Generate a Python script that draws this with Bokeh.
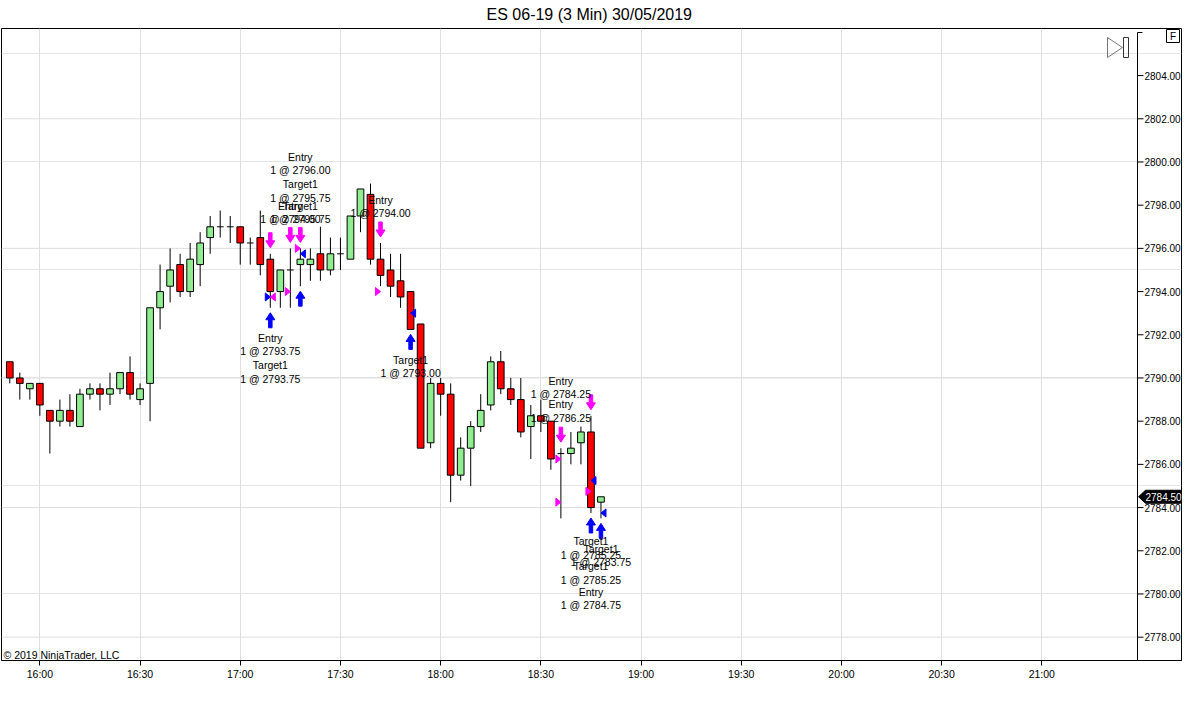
import pandas as pd
from bokeh.plotting import figure
from bokeh.models import Range1d, FixedTicker, DatetimeTickFormatter, Label
from bokeh.embed import file_html
from bokeh.resources import INLINE
from bokeh.core.properties import value

# ---------------- data ----------------
TITLE = "ES 06-19 (3 Min)  30/05/2019"
SESSION_DATE = "2019-05-30"

bar_times = ["15:51", "15:54", "15:57", "16:00", "16:03", "16:06", "16:09", "16:12", "16:15", "16:18",
             "16:21", "16:24", "16:27", "16:30", "16:33", "16:36", "16:39", "16:42", "16:45", "16:48",
             "16:51", "16:54", "16:57", "17:00", "17:03", "17:06", "17:09", "17:12", "17:15", "17:18",
             "17:21", "17:24", "17:27", "17:30", "17:33", "17:36", "17:39", "17:42", "17:45", "17:48",
             "17:51", "17:54", "17:57", "18:00", "18:03", "18:06", "18:09", "18:12", "18:15", "18:18",
             "18:21", "18:24", "18:27", "18:30", "18:33", "18:36", "18:39", "18:42", "18:45", "18:48"]
opens = [2790.75, 2790.00, 2789.50, 2789.75, 2788.50, 2788.00, 2788.50, 2787.75, 2789.25, 2789.50,
         2789.25, 2789.50, 2790.25, 2789.00, 2789.75, 2793.25, 2794.25, 2795.25, 2794.00, 2795.25,
         2796.50, 2797.00, 2797.00, 2797.00, 2796.25, 2796.50, 2795.50, 2794.00, 2795.00, 2795.25,
         2795.25, 2795.75, 2795.00, 2795.75, 2795.50, 2797.50, 2798.50, 2795.50, 2795.00, 2794.50,
         2794.00, 2792.50, 2787.00, 2789.75, 2789.25, 2785.50, 2786.75, 2787.75, 2788.75, 2790.75,
         2789.50, 2789.00, 2787.75, 2788.25, 2788.00, 2786.50, 2786.50, 2787.00, 2787.50, 2784.25]
highs = [2790.75, 2790.25, 2789.75, 2789.75, 2788.50, 2789.00, 2789.25, 2789.50, 2789.75, 2789.75,
         2790.25, 2790.25, 2791.00, 2789.75, 2793.25, 2795.25, 2796.00, 2795.75, 2796.25, 2796.75,
         2797.50, 2797.75, 2797.50, 2797.00, 2796.50, 2797.75, 2795.75, 2795.00, 2796.00, 2796.00,
         2796.00, 2797.00, 2796.50, 2796.50, 2797.50, 2798.75, 2799.00, 2796.25, 2795.75, 2795.75,
         2794.00, 2792.50, 2790.00, 2790.00, 2789.75, 2787.25, 2788.00, 2789.25, 2791.00, 2791.25,
         2790.00, 2790.00, 2788.75, 2789.00, 2788.00, 2786.75, 2787.50, 2787.75, 2788.25, 2784.50]
lows = [2789.75, 2789.00, 2789.00, 2788.25, 2786.50, 2787.75, 2787.75, 2787.75, 2789.00, 2788.50,
        2788.75, 2789.25, 2789.00, 2788.75, 2788.00, 2792.25, 2793.50, 2793.75, 2793.75, 2794.25,
        2795.75, 2796.50, 2796.25, 2795.25, 2795.25, 2794.75, 2793.25, 2793.25, 2793.25, 2794.25,
        2794.50, 2794.50, 2794.75, 2795.00, 2795.50, 2796.75, 2795.25, 2794.25, 2793.75, 2793.25,
        2792.25, 2786.75, 2786.75, 2788.25, 2784.25, 2785.25, 2785.00, 2787.50, 2788.50, 2789.25,
        2788.75, 2787.25, 2786.25, 2787.50, 2785.75, 2783.50, 2786.00, 2786.00, 2783.75, 2783.50]
closes = [2790.00, 2789.75, 2789.75, 2788.75, 2788.00, 2788.50, 2788.00, 2789.25, 2789.50, 2789.25,
          2789.50, 2790.25, 2789.25, 2789.50, 2793.25, 2794.00, 2795.00, 2794.00, 2795.50, 2796.25,
          2797.00, 2797.00, 2797.00, 2796.25, 2796.25, 2795.25, 2794.00, 2795.00, 2795.00, 2795.50,
          2795.50, 2795.00, 2795.75, 2795.75, 2797.50, 2798.75, 2795.50, 2794.75, 2794.25, 2793.75,
          2792.25, 2786.75, 2789.75, 2789.25, 2785.50, 2786.75, 2787.75, 2788.50, 2790.75, 2789.50,
          2789.00, 2787.50, 2788.25, 2788.00, 2786.25, 2786.50, 2786.75, 2787.50, 2784.00, 2784.50]

sell_arrow_times = ["17:09", "17:15", "17:18", "17:42", "18:36", "18:45"]
buy_arrow_times = ["17:09", "17:18", "17:51", "18:45", "18:48"]

exec_times = ["17:09", "17:09", "17:15", "17:18", "17:18", "17:42", "17:51",
              "18:36", "18:36", "18:45", "18:45", "18:48"]
exec_prices = [2793.75, 2793.75, 2794.00, 2796.00, 2795.75, 2794.00, 2793.00,
               2786.25, 2784.25, 2784.75, 2785.25, 2783.75]
exec_sides = ["buy", "sell", "sell", "sell", "buy", "sell", "buy",
              "sell", "sell", "sell", "buy", "buy"]
exec_marks = ["left", "right", "left", "left", "right", "left", "right",
              "left", "left", "left", "right", "right"]

label_times = ["17:09", "17:18", "17:15", "17:18", "17:42", "17:51",
               "18:36", "18:36", "18:45", "18:48", "18:45", "18:45"]
label_prices = [2792.15, 2800.53, 2798.26, 2798.26, 2798.54, 2791.13,
                2790.16, 2789.05, 2782.71, 2782.38, 2781.55, 2780.39]
label_texts = ["Entry\n1 @ 2793.75\nTarget1\n1 @ 2793.75",
               "Entry\n1 @ 2796.00\nTarget1\n1 @ 2795.75",
               "Entry\n1 @ 2794.00",
               "Target1\n1 @ 2795.75",
               "Entry\n1 @ 2794.00",
               "Target1\n1 @ 2793.00",
               "Entry\n1 @ 2784.25",
               "Entry\n1 @ 2786.25",
               "Target1\n1 @ 2785.25",
               "Target1\n1 @ 2783.75",
               "Target1\n1 @ 2785.25",
               "Entry\n1 @ 2784.75"]

price_ticks = [2778, 2780, 2782, 2784, 2786, 2788, 2790, 2792, 2794, 2796, 2798, 2800, 2802, 2804]
grid_prices = [2778, 2784, 2790, 2796, 2802]
time_ticks = ["16:00", "16:30", "17:00", "17:30", "18:00", "18:30", "19:00",
              "19:30", "20:00", "20:30", "21:00"]
last_price = 2784.50
copyright_text = "\u00a9 2019 NinjaTrader, LLC"

# ---------------- layout / style ----------------
FIG_W, FIG_H = 1182, 690
B_L, B_R, B_T, B_B = 1, 1, 28, 30
FRAME_W = FIG_W - B_L - B_R
FRAME_H = FIG_H - B_T - B_B
AXIS_PX = 1136          # price-axis line, pixels from the frame's left edge
X_START = "15:48:31"
X_END = "21:41:49"
Y_START, Y_END = 2776.92, 2806.18
FONT = "Liberation Sans"
UP_COLOR = "#90ee90"
DOWN_COLOR = "#ff0000"
BUY_COLOR = "#0000ff"
SELL_COLOR = "#ff00ff"
GRID_COLOR = "#dedede"
TEXT_SIZE = "10.5px"


def ms(t):
    return pd.Timestamp(SESSION_DATE + " " + t).value / 1e6


x0, x1 = ms(X_START), ms(X_END)
MS_PX = (x1 - x0) / FRAME_W
PT_PX = (Y_END - Y_START) / FRAME_H


def px_x(px):
    return x0 + px * MS_PX


def px_y(py):
    return Y_END - py * PT_PX


p = figure(width=FIG_W, height=FIG_H, x_axis_type="datetime", y_axis_location=None,
           x_range=Range1d(x0, x1), y_range=Range1d(Y_START, Y_END),
           output_backend="svg", toolbar_location=None,
           min_border_left=B_L, min_border_right=B_R, min_border_top=B_T, min_border_bottom=B_B)
p.background_fill_color = "white"
p.border_fill_color = "white"
p.outline_line_color = "black"
p.outline_line_width = 1

p.title.text = TITLE
p.title.align = "center"
p.title.vertical_align = "top"
p.title.text_font = FONT
p.title.text_font_size = "16px"
p.title.text_font_style = "normal"
p.title.text_color = "black"
p.title.standoff = 8

# time axis
tt = [ms(t) for t in time_ticks]
p.xaxis.ticker = FixedTicker(ticks=tt)
p.xaxis.formatter = DatetimeTickFormatter(minutes="%H:%M", hours="%H:%M", hourmin="%H:%M",
                                          minsec="%H:%M", days="%H:%M")
p.xaxis.axis_line_color = "black"
p.xaxis.major_tick_line_color = "black"
p.xaxis.major_tick_out = 5
p.xaxis.major_tick_in = 0
p.xaxis.minor_tick_line_color = None
p.xaxis.major_label_text_font = FONT
p.xaxis.major_label_text_font_size = TEXT_SIZE
p.xaxis.major_label_text_color = "black"
p.xaxis.major_label_standoff = 2
p.xgrid.ticker = FixedTicker(ticks=tt)
p.xgrid.grid_line_color = GRID_COLOR

ax_x = px_x(AXIS_PX)

# horizontal grid (stops at the price axis)
p.segment(x0=[x0] * len(grid_prices), x1=[ax_x] * len(grid_prices),
          y0=grid_prices, y1=grid_prices, line_color=GRID_COLOR, line_width=1)

# candles
bx = [ms(t) for t in bar_times]
tops = [max(o, c) for o, c in zip(opens, closes)]
bots = [min(o, c) for o, c in zip(opens, closes)]
cols = [UP_COLOR if c > o else DOWN_COLOR for o, c in zip(opens, closes)]
p.segment(x0=bx, y0=lows, x1=bx, y1=highs, line_color="black", line_width=1)
body_w = 120000
non_doji = [i for i in range(len(bx)) if opens[i] != closes[i]]
p.vbar(x=[bx[i] for i in non_doji], width=body_w, top=[tops[i] for i in non_doji],
       bottom=[bots[i] for i in non_doji], fill_color=[cols[i] for i in non_doji],
       line_color="black", line_width=1)
doji = [i for i in range(len(bx)) if opens[i] == closes[i]]
p.segment(x0=[bx[i] - body_w / 2 for i in doji], y0=[closes[i] for i in doji],
          x1=[bx[i] + body_w / 2 for i in doji], y1=[closes[i] for i in doji],
          line_color="black", line_width=1)

# arrows
ARROW = [(0, 0), (4.5, 7), (1.75, 7), (1.75, 15), (-1.75, 15), (-1.75, 7), (-4.5, 7)]
idx = {t: i for i, t in enumerate(bar_times)}
axs, ays, acol = [], [], []
for t in sell_arrow_times:
    i = idx[t]
    tip = highs[i] + 6 * PT_PX
    axs.append([bx[i] + dx * MS_PX for dx, dy in ARROW])
    ays.append([tip + dy * PT_PX for dx, dy in ARROW])
    acol.append(SELL_COLOR)
for t in buy_arrow_times:
    i = idx[t]
    tip = lows[i] - 5 * PT_PX
    axs.append([bx[i] + dx * MS_PX for dx, dy in ARROW])
    ays.append([tip - dy * PT_PX for dx, dy in ARROW])
    acol.append(BUY_COLOR)
p.patches(xs=axs, ys=ays, fill_color=acol, line_color=acol, line_width=1)

# execution triangles
TRI = [(0, 0), (5, 4), (5, -4)]
txs, tys, tcol = [], [], []
for t, pr, side, mk in zip(exec_times, exec_prices, exec_sides, exec_marks):
    c = bx[idx[t]]
    sgn = -1 if mk == "left" else 1
    txs.append([c + sgn * dx * MS_PX for dx, dy in TRI])
    tys.append([pr + dy * PT_PX for dx, dy in TRI])
    tcol.append(BUY_COLOR if side == "buy" else SELL_COLOR)
p.patches(xs=txs, ys=tys, fill_color=tcol, line_color=tcol, line_width=1)

# execution labels
p.text(x=[bx[idx[t]] for t in label_times], y=label_prices, text=label_texts,
       text_align="center", text_baseline="top", text_font=value(FONT),
       text_font_size=TEXT_SIZE, text_line_height=1.15, text_color="black")

# price axis (drawn at the right edge of the panel)
p.segment(x0=[ax_x], x1=[ax_x], y0=[Y_START], y1=[px_y(4)], line_color="black", line_width=1)
p.segment(x0=[ax_x], x1=[px_x(AXIS_PX + 5)], y0=[px_y(4)], y1=[px_y(4)],
          line_color="black", line_width=1)
p.segment(x0=[ax_x] * len(price_ticks), x1=[px_x(AXIS_PX + 6)] * len(price_ticks),
          y0=price_ticks, y1=price_ticks, line_color="black", line_width=1)
p.text(x=[px_x(AXIS_PX + 7)] * len(price_ticks), y=price_ticks,
       text=["%.2f" % v for v in price_ticks], text_align="left", text_baseline="middle",
       text_font=value(FONT), text_font_size="10px", text_color="black")

# last price tag
TAG = [(AXIS_PX + 1, 0), (AXIS_PX + 8, -6.5), (FRAME_W - 1, -6.5),
       (FRAME_W - 1, 6.5), (AXIS_PX + 8, 6.5)]
p.patch(x=[px_x(a) for a, b in TAG], y=[last_price + b * PT_PX for a, b in TAG],
        fill_color="black", line_color="black")
p.text(x=[px_x(AXIS_PX + 8)], y=[last_price], text=["%.2f" % last_price],
       text_align="left", text_baseline="middle", text_font=value(FONT),
       text_font_size="10px", text_color="white")

# "F" box
FBOX = [(FRAME_W - 15, 1), (FRAME_W - 2, 1), (FRAME_W - 2, 14), (FRAME_W - 15, 14)]
p.patch(x=[px_x(a) for a, b in FBOX], y=[px_y(b) for a, b in FBOX],
        fill_color="white", line_color="black", line_width=1)
p.text(x=[px_x(FRAME_W - 8.5)], y=[px_y(7.5)], text=["F"], text_align="center",
       text_baseline="middle", text_font=value(FONT), text_font_size="10px",
       text_color="black")

# play/skip icon
tri_px = [(AXIS_PX - 30, 9), (AXIS_PX - 30, 29), (AXIS_PX - 15, 19)]
p.patch(x=[px_x(a) for a, b in tri_px], y=[px_y(b) for a, b in tri_px],
        fill_color=None, line_color="#777777", line_width=1)
rect_px = [(AXIS_PX - 14, 9), (AXIS_PX - 9, 9), (AXIS_PX - 9, 29), (AXIS_PX - 14, 29)]
p.patch(x=[px_x(a) for a, b in rect_px], y=[px_y(b) for a, b in rect_px],
        fill_color=None, line_color="#333333", line_width=1)

# copyright
p.add_layout(Label(x=2, x_units="screen", y=px_y(FRAME_H - 6), text=copyright_text,
                   text_font=FONT, text_font_size=TEXT_SIZE, text_color="black",
                   text_baseline="middle"))

open("out.html", "w").write(file_html(p, INLINE))
